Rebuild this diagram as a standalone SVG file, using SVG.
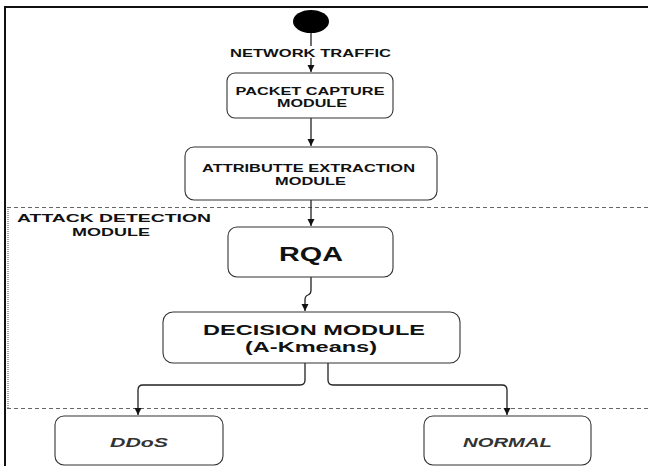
<svg xmlns="http://www.w3.org/2000/svg" width="648" height="466" viewBox="0 0 648 466">
<style>
text{font-family:"Liberation Sans",Arial,sans-serif;font-weight:bold;fill:#111;text-anchor:middle}
.box{fill:#fff;stroke:#333;stroke-width:1.1}
.conn{fill:none;stroke:#222;stroke-width:1.3}
.dash{stroke:#666;stroke-width:1;stroke-dasharray:4 3;fill:none}
.it{font-style:italic;fill:#333}
</style>
<defs>
<marker id="ah" markerUnits="userSpaceOnUse" markerWidth="8" markerHeight="8" refX="7" refY="3.5" orient="auto">
<path d="M0,0 L7,3.5 L0,7 z" fill="#111"/>
</marker>
</defs>
<rect width="648" height="466" fill="#fff"/>
<g id="frame">
<line x1="5" y1="7" x2="648" y2="7" stroke="#111" stroke-width="2"/>
<line x1="5" y1="6" x2="5" y2="466" stroke="#111" stroke-width="2"/>
<line x1="8" y1="207" x2="8" y2="408" stroke="#555" stroke-width="1" stroke-dasharray="1 1"/>
<line class="dash" x1="7" y1="207.5" x2="648" y2="207.5"/>
<line class="dash" x1="7" y1="408.5" x2="648" y2="408.5"/>
</g>
<g id="connectors">
<path class="conn" d="M311,33 V72" marker-end="url(#ah)"/>
<path class="conn" d="M311,118 V146" marker-end="url(#ah)"/>
<path class="conn" d="M311,200 V226" marker-end="url(#ah)"/>
<path class="conn" d="M311,277 V290 Q311,294 308,295 Q305,296 305,300 V311" marker-end="url(#ah)"/>
<path class="conn" d="M305,363 V380 Q305,385 300,385 H143 Q138,385 138,390 V415" marker-end="url(#ah)"/>
<path class="conn" d="M328,363 V380 Q328,385 333,385 H502 Q507,385 507,390 V415" marker-end="url(#ah)"/>
</g>
<g id="start">
<ellipse cx="311" cy="21.5" rx="18" ry="11.5" fill="#000"/>
</g>
<g id="label-network-traffic">
<rect x="229" y="46" width="164" height="12" fill="#fff"/>
<text x="310.5" y="57" font-size="11.5" textLength="161" lengthAdjust="spacingAndGlyphs">NETWORK TRAFFIC</text>
</g>
<g id="packet-capture">
<rect class="box" x="227" y="73" width="166" height="45" rx="8"/>
<text x="310" y="94.5" font-size="10.5" textLength="149" lengthAdjust="spacingAndGlyphs">PACKET CAPTURE</text>
<text x="312" y="107" font-size="10.5" textLength="70" lengthAdjust="spacingAndGlyphs">MODULE</text>
</g>
<g id="attribute-extraction">
<rect class="box" x="185" y="147" width="252" height="53" rx="9"/>
<text x="308.5" y="172" font-size="11" textLength="213" lengthAdjust="spacingAndGlyphs">ATTRIBUTTE EXTRACTION</text>
<text x="310.5" y="185" font-size="11" textLength="71" lengthAdjust="spacingAndGlyphs">MODULE</text>
</g>
<g id="attack-detection-label">
<text x="114" y="222" font-size="11" textLength="194" lengthAdjust="spacingAndGlyphs">ATTACK  DETECTION</text>
<text x="111" y="236" font-size="11" textLength="78" lengthAdjust="spacingAndGlyphs">MODULE</text>
</g>
<g id="rqa">
<rect class="box" x="228" y="227" width="165" height="50" rx="9"/>
<text x="311" y="261" font-size="19.5" textLength="64" lengthAdjust="spacingAndGlyphs">RQA</text>
</g>
<g id="decision-module">
<rect class="box" x="163" y="312" width="297" height="51" rx="10"/>
<text x="314" y="334.5" font-size="14.5" textLength="222" lengthAdjust="spacingAndGlyphs">DECISION MODULE</text>
<text x="311" y="351.5" font-size="14.5" textLength="132" lengthAdjust="spacingAndGlyphs">(A-Kmeans)</text>
</g>
<g id="ddos">
<rect class="box" x="55" y="416" width="168" height="49" rx="9"/>
<text class="it" x="139" y="447" font-size="13.5" textLength="58" lengthAdjust="spacingAndGlyphs">DDoS</text>
</g>
<g id="normal">
<rect class="box" x="424" y="416" width="167" height="49" rx="9"/>
<text class="it" x="507.5" y="447" font-size="13.5" textLength="89" lengthAdjust="spacingAndGlyphs">NORMAL</text>
</g>
</svg>
